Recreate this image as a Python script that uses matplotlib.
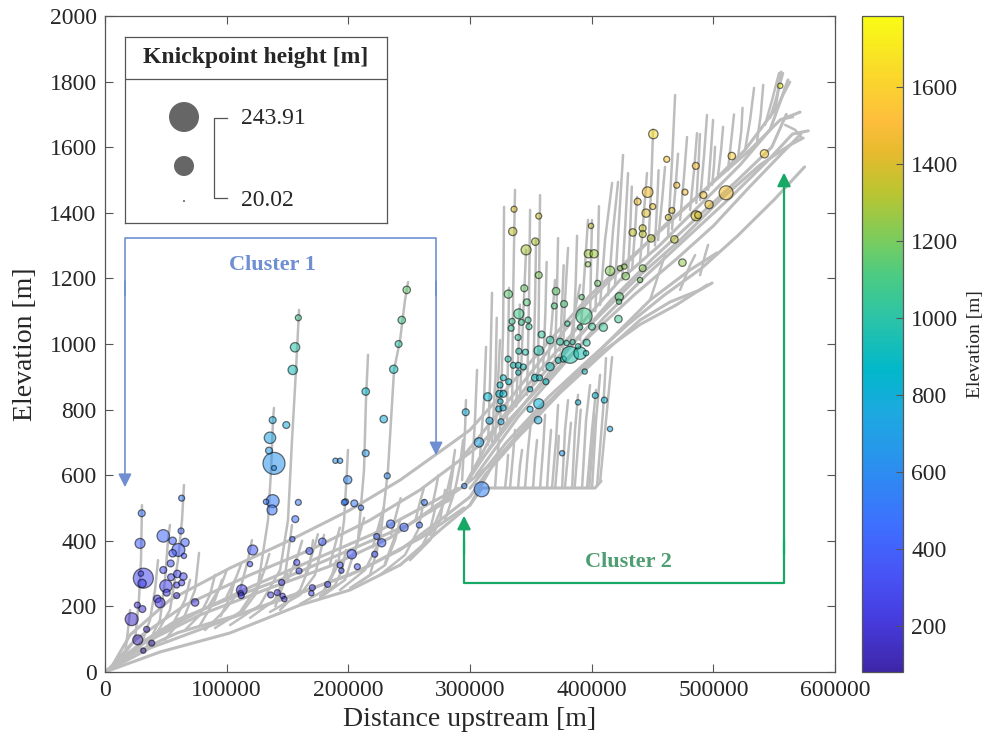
import numpy as np
import matplotlib
matplotlib.use('Agg')
import matplotlib.pyplot as plt
from matplotlib.colors import LinearSegmentedColormap, Normalize
from matplotlib.cm import ScalarMappable

plt.rcParams['font.family'] = ['Liberation Serif', 'DejaVu Serif']

# ---- river long profiles (distance in km, elevation in m) ----
trunk_lake_km = [0, 45.2, 102.8, 160.3, 201.4, 242.5, 275.4, 300.0, 309.9, 402.8, 407.7]
trunk_lake_m = [0, 61, 119, 204, 250, 326, 433, 509, 561, 561, 582]

trunk2_km = [0, 37.0, 94.5, 152.1, 201.4, 242.5, 275.4, 300.0, 312.4, 341.1, 374.0, 406.9, 439.8, 464.4, 489.1, 499.0]
trunk2_m = [0, 73, 152, 232, 296, 372, 463, 534, 601, 723, 851, 963, 1073, 1128, 1165, 1186]

trunk3_km = [0, 28.8, 78.1, 135.6, 185.0, 234.3, 267.2, 295.9, 316.5, 349.4, 382.2, 415.1, 448.0, 480.9, 503.1]
trunk3_m = [0, 82, 174, 256, 323, 409, 494, 570, 631, 753, 890, 1012, 1134, 1226, 1278]

trunk4_km = [0, 4.1, 24.7, 65.8, 119.2, 168.5, 217.8, 258.9, 291.8, 308.3, 341.1, 374.0, 406.9, 439.8, 472.7, 505.5, 538.4, 563.1, 573.8]
trunk4_m = [0, 12, 98, 204, 296, 372, 463, 555, 646, 692, 829, 967, 1088, 1210, 1317, 1439, 1546, 1607, 1628]

trunk5_km = [0, 5.8, 20.6, 53.4, 102.8, 152.1, 201.4, 242.5, 279.5, 300.0, 332.9, 365.8, 398.7, 431.6, 464.4, 497.3, 530.2, 554.9, 571.3]
trunk5_m = [0, 18, 113, 220, 317, 402, 494, 585, 683, 738, 875, 1012, 1149, 1262, 1372, 1485, 1592, 1683, 1707]

trunk6_km = [295.9, 324.7, 357.6, 390.5, 423.3, 456.2, 489.1, 522.0, 546.6, 561.4]
trunk6_m = [570, 768, 921, 1058, 1195, 1302, 1424, 1546, 1653, 1805]

trunk7_km = [291.8, 328.8, 361.7, 394.6, 427.4, 460.3, 493.2, 526.1, 550.7, 555.7]
trunk7_m = [646, 814, 967, 1119, 1241, 1363, 1470, 1592, 1714, 1829]

trunk8_km = [300.0, 320.0, 350.0, 380.0, 410.0, 440.0, 470.0, 495.0]
trunk8_m = [509, 640, 770, 880, 980, 1060, 1120, 1180]

trunk9_km = [295.9, 330.0, 365.0, 400.0, 435.0, 470.0, 500.0, 530.0, 556.0, 572.0]
trunk9_m = [570, 760, 900, 1030, 1150, 1260, 1360, 1480, 1580, 1640]

trunk10_km = [0, 15, 40, 80, 120, 170, 220, 260, 290]
trunk10_m = [0, 40, 110, 190, 260, 340, 420, 500, 560]

trunk11_km = [0, 10, 30, 60, 100, 150, 200, 250, 285]
trunk11_m = [0, 30, 90, 160, 220, 290, 370, 450, 530]

trunk12_km = [0, 25, 60, 110, 160, 210, 260, 295]
trunk12_m = [0, 60, 120, 175, 240, 310, 410, 500]

trunk13_km = [300, 330, 365, 400, 430, 460, 490, 520, 550, 575]
trunk13_m = [560, 700, 840, 960, 1060, 1150, 1230, 1330, 1440, 1540]

trunk14_km = [305, 340, 375, 410, 445, 480, 515, 545, 565, 578]
trunk14_m = [600, 780, 930, 1080, 1210, 1330, 1450, 1560, 1640, 1650]

trunk15_km = [310, 345, 380, 415, 450, 485, 520, 548, 560]
trunk15_m = [650, 820, 980, 1130, 1260, 1380, 1500, 1600, 1700]

trunks = [
    (trunk_lake_km, trunk_lake_m), (trunk2_km, trunk2_m), (trunk3_km, trunk3_m),
    (trunk4_km, trunk4_m), (trunk5_km, trunk5_m), (trunk6_km, trunk6_m),
    (trunk7_km, trunk7_m), (trunk8_km, trunk8_m), (trunk9_km, trunk9_m),
    (trunk10_km, trunk10_m), (trunk11_km, trunk11_m), (trunk12_km, trunk12_m),
    (trunk13_km, trunk13_m), (trunk14_km, trunk14_m), (trunk15_km, trunk15_m),
]

# tributaries (km, m)
tributaries = [
    # cluster 1
    [(12.3, 37), (24.7, 98), (27.9, 220), (29.6, 341), (30.4, 509)],
    [(32.9, 67), (45.2, 159), (49.3, 281), (51.8, 402), (53.4, 448)],
    [(37.0, 82), (53.4, 189), (60.0, 341), (63.3, 463), (64.9, 570)],
    [(49.3, 98), (65.8, 174), (74.0, 250), (77.3, 363)],
    [(28.8, 73), (37.0, 159), (41.1, 250), (43.6, 341)],
    [(82.2, 128), (98.6, 189), (111.0, 250), (117.5, 341), (120.8, 402)],
    [(90.4, 134), (111.0, 183), (125.8, 265), (134.0, 463), (136.5, 616), (138.1, 768), (138.9, 805)],
    [(102.8, 143), (127.4, 204), (143.9, 311), (150.4, 463), (153.7, 707), (157.0, 921), (159.5, 1104)],
    [(119.2, 165), (139.7, 220), (148.0, 296), (152.1, 402), (153.7, 448)],
    [(135.6, 183), (160.3, 235), (172.6, 296), (178.4, 387), (180.0, 418)],
    [(160.3, 207), (180.8, 250), (191.5, 326), (196.5, 463), (198.9, 616), (199.7, 677)],
    [(176.7, 226), (197.3, 281), (208.0, 402), (212.9, 616), (214.5, 829), (216.2, 967)],
    [(193.2, 250), (213.7, 311), (226.1, 402), (232.6, 616), (237.6, 921), (242.5, 1012), (246.6, 1134), (249.1, 1189)],
    [(209.6, 274), (230.2, 326), (238.4, 402), (242.5, 463)],
    [(226.1, 296), (246.6, 357), (257.3, 433), (262.2, 524)],
    [(242.5, 326), (258.9, 372), (267.2, 433), (272.1, 509)],
    [(250.7, 341), (267.2, 402), (275.4, 463), (279.5, 555)],
    [(201.4, 256), (217.8, 296), (223.6, 372), (226.1, 448)],
    [(65.8, 128), (78.1, 174), (86.3, 235), (90.4, 296)],
    [(16.4, 52), (18.9, 128), (20.6, 189)],
    [(143.9, 189), (160.3, 250), (168.5, 326), (171.0, 402)],
    [(176.7, 232), (189.1, 265), (194.8, 311), (198.1, 372)],
    [(267.2, 418), (279.5, 524), (285.2, 616), (287.7, 677)],
    [(279.5, 463), (287.7, 555), (291.8, 631), (294.3, 707)],
    [(53.4, 128), (65.8, 220), (69.9, 281)],
    [(78.1, 143), (90.4, 220), (96.2, 281)],
    [(111.0, 174), (123.3, 235), (129.1, 296)],
    [(85, 200), (95, 260), (100, 310)],
    [(100, 230), (108, 290), (112, 330)],
    [(125, 250), (132, 320), (135, 360)],
    [(150, 280), (158, 350), (162, 400)],
    [(165, 300), (172, 380), (175, 420)],
    [(185, 330), (190, 400), (193, 440)],
    [(205, 360), (210, 430), (213, 470)],
    [(220, 380), (226, 460), (229, 500)],
    [(235, 420), (240, 490), (243, 530)],
    [(255, 460), (259, 520), (262, 560)],
    [(268, 490), (272, 560), (274, 600)],
    [(282, 520), (285, 590), (287, 640)],
    [(95, 170), (103, 230), (106, 270)],
    [(140, 200), (146, 260), (150, 300)],
    [(180, 250), (187, 300), (190, 340)],
    [(230, 330), (236, 390), (240, 430)],
    # cluster 2, lake
    [(320.6, 561), (322.2, 646), (323.9, 707)],
    [(332.9, 561), (335.4, 662), (337.0, 738)],
    [(345.2, 561), (347.7, 677), (350.2, 768)],
    [(357.6, 561), (360.0, 677), (361.7, 784)],
    [(367.4, 561), (370.7, 707), (372.4, 814)],
    [(375.7, 561), (378.1, 738), (380.6, 829)],
    [(383.9, 561), (386.3, 738), (388.8, 845)],
    [(392.1, 561), (395.4, 768), (398.7, 875)],
    [(400.3, 561), (403.6, 768), (406.9, 906)],
    [(406.9, 579), (411.8, 768), (416.8, 960)],
    [(404.4, 567), (409.4, 799), (411.8, 957)],
    [(396.2, 561), (400.3, 738), (403.6, 860)],
    [(328.8, 561), (330.4, 616), (331.3, 662)],
    [(339.5, 561), (341.1, 631), (342.8, 677)],
    [(351.8, 561), (353.5, 646), (355.1, 707)],
    [(363.3, 561), (365.0, 662), (366.6, 738)],
    [(386, 561), (389, 700), (391, 800)],
    [(378, 561), (381, 680), (383, 760)],
    [(370, 561), (372, 650), (373, 720)],
    [(398, 561), (401, 700), (402, 790)],
    # cluster 2, upper band
    [(293.5, 585), (295.9, 738), (296.7, 829)],
    [(301.7, 616), (304.1, 768), (305.8, 921)],
    [(308.3, 662), (311.5, 829), (313.2, 991)],
    [(314.8, 692), (316.5, 890), (318.1, 1156)],
    [(320.6, 707), (323.1, 890), (324.7, 1012)],
    [(324.7, 738), (327.2, 1043), (328.0, 1418)],
    [(330.4, 768), (331.3, 982), (332.1, 1171)],
    [(334.6, 799), (335.4, 1134), (337.0, 1470)],
    [(341.1, 829), (343.6, 1073), (346.1, 1287)],
    [(346.9, 845), (348.5, 1134), (349.4, 1409)],
    [(351.8, 875), (353.5, 1134), (354.3, 1317)],
    [(355.9, 906), (356.7, 1165), (357.6, 1454)],
    [(364.1, 936), (367.4, 1073), (369.9, 1195)],
    [(369.9, 951), (371.5, 1165), (372.4, 1323)],
    [(376.5, 982), (378.1, 1134), (380.6, 1293)],
    [(382.2, 997), (386.3, 1104), (390.5, 1180)],
    [(390.5, 1012), (393.7, 1195), (397.0, 1378)],
    [(398.7, 1073), (399.5, 1256), (400.3, 1378)],
    [(406.9, 1119), (411.0, 1317), (416.8, 1491)],
    [(413.5, 1149), (417.6, 1348), (421.7, 1494)],
    [(419.2, 1180), (422.5, 1378), (425.8, 1576)],
    [(425.0, 1195), (427.4, 1348), (429.9, 1521)],
    [(433.2, 1226), (435.7, 1348), (437.3, 1448)],
    [(439.8, 1250), (443.1, 1409), (445.5, 1521)],
    [(446.3, 1271), (448.8, 1470), (450.5, 1653)],
    [(454.6, 1317), (457.9, 1439), (460.3, 1540)],
    [(462.8, 1332), (466.1, 1561), (468.6, 1759)],
    [(472.7, 1378), (476.0, 1515), (478.4, 1631)],
    [(480.9, 1409), (484.2, 1531), (486.6, 1643)],
    [(489.1, 1439), (492.4, 1576), (494.8, 1698)],
    [(495.7, 1470), (498.1, 1592), (499.8, 1683)],
    [(499.0, 1485), (500.6, 1546), (501.4, 1601)],
    [(503.9, 1515), (506.4, 1592), (508.0, 1662)],
    [(526.1, 1592), (530.2, 1683), (533.5, 1781)],
    [(542.5, 1668), (548.3, 1744), (554.0, 1826)],
    [(546.6, 1689), (552.4, 1759), (557.3, 1826)],
    [(550.7, 1707), (557.3, 1759), (563.1, 1799)],
    [(554.9, 1683), (561.4, 1689), (565.5, 1692)],
    [(559.0, 1668), (567.2, 1653), (572.1, 1631)],
    [(448.0, 1134), (456.2, 1226), (460.3, 1271)],
    [(472.7, 1165), (480.9, 1241), (485.0, 1271)],
    [(489.1, 1210), (493.2, 1271), (495.7, 1302)],
    [(318, 700), (321, 900), (322, 1080)],
    [(338, 810), (340, 1000), (341, 1120)],
    [(360, 920), (362, 1100), (363, 1250)],
    [(374, 980), (376, 1150), (377, 1240)],
    [(385, 1020), (387, 1200), (388, 1330)],
    [(403, 1100), (405, 1250), (406, 1420)],
    [(430, 1220), (432, 1380), (433, 1480)],
    [(452, 1300), (454, 1440), (455, 1530)],
    [(466, 1350), (469, 1480), (471, 1580)],
    [(486, 1430), (488, 1560), (489, 1640)],
    [(512, 1530), (515, 1630), (517, 1700)],
    [(520, 1560), (523, 1650), (524, 1720)],
    [(536, 1620), (539, 1700), (541, 1790)],
]

# ---- knickpoints: distance (km), elevation (m), knickpoint height (m) ----
kp_km = [
    30.2, 28.8, 31.5, 30.5, 29.5, 26.6, 30.7, 21.9, 34.2, 26.9, 38.4, 31.5,
    47.9, 55.6, 62.5, 63.0, 65.8, 60.3, 55.6, 64.9, 54.0, 47.9, 54.3, 59.4,
    64.4, 58.9, 63.0, 50.1, 50.7, 43.0, 45.2, 58.9, 74.0, 121.4, 119.2, 112.4,
    111.5, 112.0, 138.9, 138.9, 135.6, 134.8, 137.8, 149.0, 137.8, 132.3, 137.3, 158.9,
    156.4, 154.0, 157.6, 159.5, 168.0, 178.6, 145.2, 136.2, 141.6, 146.0, 147.4, 170.4,
    169.6, 183.0, 193.2, 194.3, 199.5, 189.4, 193.2, 197.8, 158.9, 156.2, 154.3, 214.3,
    229.1, 214.3, 232.0, 248.0, 243.9, 241.3, 237.3, 196.7, 204.9, 210.4, 262.5, 258.4,
    245.8, 234.8, 223.3, 227.4, 221.7, 202.8, 207.4,
    295.3, 309.6, 307.4, 375.7, 296.5, 314.6, 325.5, 316.0, 356.0, 356.5, 349.4, 349.4,
    388.8, 403.0, 410.4, 415.1, 324.1, 327.4, 325.0, 323.6, 327.2, 327.4, 331.8, 324.7,
    331.3, 335.6, 339.7, 343.8, 339.7, 353.3, 357.1, 362.4, 394.3, 356.5, 340.1, 345.6,
    365.8, 372.6, 376.7, 382.2, 390.5, 395.4, 358.9, 365.8, 374.0, 379.4, 384.3, 388.8,
    395.9, 339.5, 334.6, 342.3, 347.7, 333.8, 348.5, 380.0, 400.3, 390.5, 409.6, 422.0,
    340.1, 393.7, 346.7, 369.3, 377.3, 391.8, 422.7, 422.5, 331.5, 344.6, 370.7, 404.9,
    356.5, 415.1, 423.3, 426.9, 428.0, 441.9, 439.8, 346.1, 353.7, 335.1, 336.2, 356.5,
    399.5, 397.3, 402.0, 397.0, 450.7, 446.0, 437.8, 450.2, 444.7, 441.9, 442.0, 433.8,
    448.8, 468.0, 474.6, 555.0, 542.0, 515.2, 485.6, 461.7, 510.5, 469.9, 476.7, 491.8,
    496.5, 485.8, 487.5, 466.0, 463.0,
]
kp_elev = [
    484, 392, 286, 270, 300, 204, 192, 161, 130, 98, 88, 65,
    415, 400, 430, 530, 395, 372, 362, 354, 331, 311, 289, 299,
    291, 265, 272, 262, 242, 223, 211, 233, 212, 372, 329, 250,
    240, 233, 636, 622, 714, 675, 768, 753, 521, 519, 494, 517,
    466, 405, 334, 308, 369, 397, 273, 235, 242, 232, 222, 257,
    240, 267, 326, 309, 586, 644, 644, 519, 1080, 990, 921, 855,
    771, 667, 598, 1165, 1073, 1000, 923, 517, 514, 501, 517, 448,
    441, 451, 413, 394, 359, 359, 321,
    567, 557, 700, 667, 792, 839, 763, 766, 768, 818, 801, 862,
    822, 843, 829, 741, 848, 848, 825, 802, 805, 897, 885, 875,
    954, 935, 935, 930, 913, 897, 897, 885, 916, 980, 978, 975,
    931, 950, 954, 967, 972, 972, 1029, 1012, 1007, 1003, 1006, 993,
    1004, 1020, 1069, 1066, 1073, 1048, 1053, 1062, 1053, 1051, 1051, 1076,
    1092, 1085, 1127, 1116, 1122, 1143, 1144, 1129, 1152, 1170, 1161, 1185,
    1210, 1223, 1231, 1236, 1207, 1231, 1195, 1287, 1312, 1343, 1411, 1390,
    1360, 1275, 1275, 1243, 1640, 1463, 1434, 1419, 1399, 1353, 1335, 1340,
    1322, 1319, 1248, 1787, 1580, 1573, 1543, 1563, 1461, 1484, 1463, 1454,
    1425, 1391, 1393, 1407, 1386,
]
kp_height = [
    31, 44, 119, 36, 26, 28, 31, 61, 28, 44, 28, 26,
    58, 33, 28, 28, 36, 61, 33, 26, 31, 31, 31, 33,
    33, 28, 28, 58, 31, 33, 44, 28, 33, 44, 26, 47,
    26, 28, 140, 25, 52, 31, 31, 31, 61, 26, 44, 28,
    31, 26, 28, 28, 31, 33, 28, 28, 28, 26, 26, 28,
    26, 28, 28, 26, 36, 26, 26, 28, 28, 41, 41, 33,
    33, 31, 28, 33, 33, 31, 36, 28, 31, 26, 28, 28,
    36, 36, 28, 36, 28, 41, 28,
    26, 75, 41, 26, 31, 36, 28, 31, 33, 44, 28, 26,
    26, 28, 28, 26, 31, 31, 26, 28, 28, 28, 28, 28,
    28, 28, 28, 28, 26, 31, 28, 28, 26, 41, 28, 28,
    36, 28, 28, 91, 58, 26, 31, 33, 31, 26, 26, 26,
    31, 28, 28, 28, 28, 28, 28, 26, 31, 26, 36, 33,
    44, 85, 31, 28, 31, 26, 36, 26, 36, 31, 33, 28,
    31, 41, 26, 26, 33, 31, 26, 44, 33, 36, 28, 28,
    26, 36, 36, 26, 41, 47, 31, 28, 36, 31, 31, 33,
    33, 33, 33, 26, 36, 33, 31, 28, 68, 28, 28, 31,
    36, 44, 31, 28, 28,
]

legend_heights = [243.91, 119.0, 20.02]
h_min, h_max = 20.02, 243.91
elev_min, elev_max = 80, 1785
cbar_ticks = [200, 400, 600, 800, 1000, 1200, 1400, 1600]
x_ticks = [0, 100000, 200000, 300000, 400000, 500000, 600000]
y_ticks = [0, 200, 400, 600, 800, 1000, 1200, 1400, 1600, 1800, 2000]

# parula-like colormap
parula_colors = [
    (0.2422, 0.1504, 0.6603), (0.2751, 0.2342, 0.8710), (0.2810, 0.3228, 0.9579),
    (0.2440, 0.4358, 0.9988), (0.1540, 0.5902, 0.9218), (0.1113, 0.6635, 0.8763),
    (0.0036, 0.7203, 0.7917), (0.1717, 0.7670, 0.6554), (0.2906, 0.7973, 0.5188),
    (0.5044, 0.7993, 0.3480), (0.7242, 0.7698, 0.1910), (0.9035, 0.7330, 0.1774),
    (0.9956, 0.7434, 0.2371), (0.9786, 0.8386, 0.1766), (0.9769, 0.9839, 0.0805),
]
parula_pos = [0, 5, 9, 14, 21, 25, 29, 34, 38, 42, 46, 50, 53, 57, 63]
parula = LinearSegmentedColormap.from_list(
    'parula', list(zip([p / 63 for p in parula_pos], parula_colors)))


def marker_size(h):
    # bubble area grows linearly from 2 px to 30 px diameter
    h = np.asarray(h, dtype=float)
    area_px = 4 + (h - h_min) / (h_max - h_min) * 896
    return area_px * 0.72 ** 2


GREY = '#bdbdbd'
TXT = '#262626'

fig = plt.figure(figsize=(9.93, 7.48), dpi=100)
ax = fig.add_axes([105 / 993, 76 / 748, 730 / 993, 656 / 748])

for km, m in trunks:
    ax.plot(np.array(km) * 1000, m, color=GREY, lw=2.2, solid_capstyle='round', zorder=1)
for trib in tributaries:
    t = np.array(trib)
    ax.plot(t[:, 0] * 1000, t[:, 1], color=GREY, lw=1.8, solid_capstyle='round', zorder=1)

norm = Normalize(elev_min, elev_max)
ax.scatter(np.array(kp_km) * 1000, kp_elev, s=marker_size(kp_height), c=kp_elev,
           cmap=parula, norm=norm, alpha=0.55, edgecolors='black', linewidths=0.9, zorder=3)

ax.set_xlim(0, 600000)
ax.set_ylim(0, 2000)
ax.set_xticks(x_ticks)
ax.set_xticklabels([str(v) for v in x_ticks])
ax.set_yticks(y_ticks)
ax.set_yticklabels([str(v) for v in y_ticks])
ax.tick_params(direction='in', top=True, right=True, length=6, width=0.8,
               color='#555555', labelcolor=TXT, labelsize=17, pad=6)
for sp in ax.spines.values():
    sp.set_color('#555555')
    sp.set_linewidth(0.9)
ax.set_xlabel('Distance upstream [m]', fontsize=20, color=TXT, labelpad=4)
ax.set_ylabel('Elevation [m]', fontsize=20, color=TXT, labelpad=8)

# cluster annotations
c1_col = '#6f8fd2'
c2_col = '#17a865'
ax.plot([16400, 16400, 272100, 272100], [1150, 1323, 1323, 1150], color=c1_col, lw=1.2, zorder=2)
ax.annotate('', xy=(16400, 555), xytext=(16400, 1200),
            arrowprops=dict(arrowstyle='-|>', color=c1_col, lw=1.2, mutation_scale=20), zorder=2)
ax.annotate('', xy=(272100, 652), xytext=(272100, 1200),
            arrowprops=dict(arrowstyle='-|>', color=c1_col, lw=1.2, mutation_scale=20), zorder=2)
ax.text(138000, 1241, 'Cluster 1', color=c1_col, fontsize=16, fontweight='bold',
        ha='center', va='center')

ax.plot([295100, 295100, 558100, 558100], [400, 271, 271, 400], color=c2_col, lw=1.6, zorder=2)
ax.annotate('', xy=(295100, 485), xytext=(295100, 350),
            arrowprops=dict(arrowstyle='-|>', color=c2_col, lw=1.6, mutation_scale=20), zorder=2)
ax.annotate('', xy=(558100, 1531), xytext=(558100, 350),
            arrowprops=dict(arrowstyle='-|>', color=c2_col, lw=1.6, mutation_scale=20), zorder=2)
ax.text(430000, 336, 'Cluster 2', color='#4f9e72', fontsize=16, fontweight='bold',
        ha='center', va='center')

# size legend
lax = fig.add_axes([125 / 993, (748 - 223) / 748, 262 / 993, 186 / 748])
lax.set_xlim(0, 262)
lax.set_ylim(186, 0)
lax.set_xticks([])
lax.set_yticks([])
for sp in lax.spines.values():
    sp.set_color('#555555')
    sp.set_linewidth(0.9)
lax.axhline(42, color='#555555', lw=0.9)
lax.text(131, 21, 'Knickpoint height [m]', fontsize=17, fontweight='bold', color=TXT,
         ha='center', va='center')
lax.scatter([59, 59, 59], [80, 129, 164], s=marker_size(legend_heights), color='#666666',
            edgecolors='none')
lax.plot([102, 89, 89, 102], [81, 81, 161, 161], color='#555555', lw=0.9)
lax.text(116, 81, '243.91', fontsize=17, color=TXT, ha='left', va='center')
lax.text(116, 163, '20.02', fontsize=17, color=TXT, ha='left', va='center')

# colorbar
cax = fig.add_axes([862 / 993, 76 / 748, 41 / 993, 656 / 748])
sm = ScalarMappable(norm=norm, cmap=parula)
cbar = fig.colorbar(sm, cax=cax, ticks=cbar_ticks)
cbar.outline.set_edgecolor('#555555')
cbar.outline.set_linewidth(0.9)
cax.tick_params(direction='in', length=5, color='#555555', labelcolor=TXT, labelsize=17, pad=6)
cbar.set_label('Elevation [m]', fontsize=14, color=TXT, labelpad=6)

fig.savefig('out.png', dpi=100)
